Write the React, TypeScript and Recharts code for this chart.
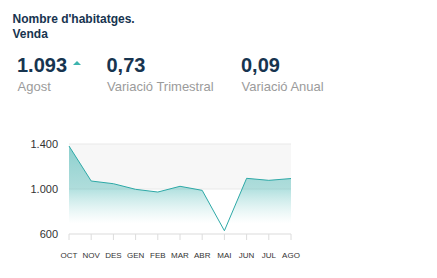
import React from 'react';
import { AreaChart, Area, XAxis, YAxis, CartesianGrid } from 'recharts';

// --- dades ---
const months = ['OCT', 'NOV', 'DES', 'GEN', 'FEB', 'MAR', 'ABR', 'MAI', 'JUN', 'JUL', 'AGO'];
const habitatges = [1382, 1071, 1047, 997, 973, 1024, 988, 629, 1095, 1077, 1093];
const yTicks = [600, 1000, 1400];

const kpis = [
  { value: '1.093', label: 'Agost', left: 17 },
  { value: '0,73', label: 'Variació Trimestral', left: 106.5 },
  { value: '0,09', label: 'Variació Anual', left: 241 },
];

const data = months.map((m, i) => ({ month: m, value: habitatges[i] }));

const navy = '#17344f';
const teal = '#2ea9a7';
const font = '"Liberation Sans", Arial, Helvetica, sans-serif';

const fmt = (v: number) => v.toLocaleString('de-DE');

export default function App() {
  return (
    <div style={{ position: 'absolute', top: 0, left: 0, width: 437, height: 278, background: '#fff', fontFamily: font }}>
      <div style={{ position: 'absolute', left: 12.5, top: 13.3, fontSize: 12, lineHeight: '12px', fontWeight: 700, color: navy }}>
        Nombre d'habitatges.
      </div>
      <div style={{ position: 'absolute', left: 12.5, top: 27.7, fontSize: 12, lineHeight: '12px', fontWeight: 700, color: navy }}>
        Venda
      </div>

      {kpis.map(k => (
        <React.Fragment key={k.label}>
          <div style={{ position: 'absolute', left: k.left, top: 55, fontSize: 20, lineHeight: '20px', fontWeight: 700, color: navy }}>
            {k.value}
          </div>
          <div style={{ position: 'absolute', left: k.left + 0.5, top: 80, fontSize: 13, lineHeight: '13px', color: '#9b9b9b' }}>
            {k.label}
          </div>
        </React.Fragment>
      ))}
      {/* fletxa */}
      <div style={{ position: 'absolute', left: 73, top: 60.5, width: 0, height: 0, borderLeft: '4.5px solid transparent', borderRight: '4.5px solid transparent', borderBottom: '4px solid #3cb4ae' }} />

      <div style={{ position: 'absolute', left: 0, top: 130 }}>
        <AreaChart width={310} height={140} data={data} margin={{ top: 14, right: 19, left: 19, bottom: 16 }}>
          <defs>
            <linearGradient id="fillHab" x1="0" y1="0" x2="0" y2="1">
              <stop offset="0%" stopColor="#3fb3b0" stopOpacity={0.58} />
              <stop offset="50%" stopColor="#4fbab7" stopOpacity={0.42} />
              <stop offset="88%" stopColor="#8fd3d1" stopOpacity={0} />
            </linearGradient>
          </defs>
          <CartesianGrid vertical={false} stroke="#e9e9e9" horizontalFill={['#f7f7f7', 'transparent']} />
          <XAxis
            dataKey="month"
            interval={0}
            tick={{ fill: '#333', fontSize: 8, fontFamily: font }}
            axisLine={{ stroke: '#e6e6e6' }}
            tickLine={{ stroke: '#dcdcdc' }}
            tickSize={6}
            tickMargin={12}
            height={20}
          />
          <YAxis
            domain={[600, 1400]}
            ticks={yTicks}
            tickFormatter={fmt}
            axisLine={false}
            tickLine={false}
            tickMargin={5}
            width={50}
            tick={{ fill: '#333', fontSize: 11, fontFamily: font }}
          />
          <Area
            type="linear"
            dataKey="value"
            stroke={teal}
            strokeWidth={1}
            fill="url(#fillHab)"
            fillOpacity={1}
            dot={false}
            activeDot={false}
            isAnimationActive={false}
          />
        </AreaChart>
      </div>
    </div>
  );
}
